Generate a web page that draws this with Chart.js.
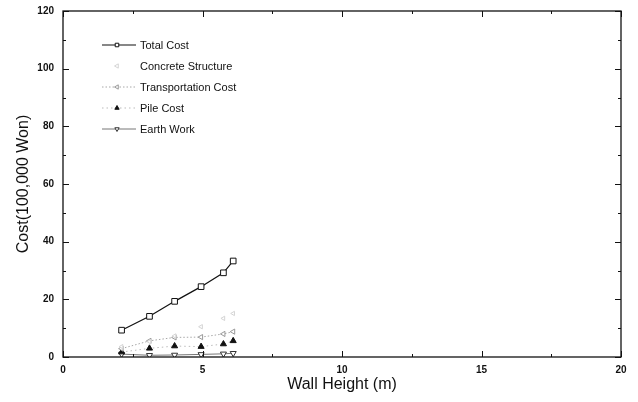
<!DOCTYPE html>
<html>
<head>
<meta charset="utf-8">
<script src="https://cdn.jsdelivr.net/npm/chart.js@4/dist/chart.umd.min.js"></script>
<style>
  html, body { margin: 0; padding: 0; background: #fff; }
  #wrap { width: 638px; height: 402px; position: relative; }
</style>
</head>
<body>
<div id="wrap"><canvas id="costChart"></canvas></div>
<script>
// wall heights (m) and cost components (100,000 Won)
const wallHeight = [2.1, 3.1, 4.0, 4.95, 5.75, 6.1];
const totalCost = [9.3, 14.1, 19.3, 24.4, 29.2, 33.3];
const concreteStructure = [3.6, 5.3, 7.3, 10.5, 13.4, 15.1];
const transportationCost = [2.9, 5.6, 6.8, 6.9, 8.0, 8.8];
const pileCost = [1.7, 3.0, 3.8, 3.6, 4.5, 5.6];
const earthWork = [1.0, 0.6, 0.7, 0.9, 1.1, 1.3];

const xTicks = [0, 5, 10, 15, 20];
const yTicks = [0, 20, 40, 60, 80, 100, 120];

const toPoints = ys => ys.map((y, i) => ({ x: wallHeight[i], y }));

const series = [
    {
        label: "Total Cost", data: toPoints(totalCost),
        borderColor: "#111", borderWidth: 1.2, borderDash: [],
        pointStyle: "rect", pointRadius: 4, pointBorderColor: "#111",
        pointBackgroundColor: "#fff", rotation: 0,
    },
    {
        label: "Concrete Structure", data: toPoints(concreteStructure),
        borderColor: "rgba(0,0,0,0)", borderWidth: 1, borderDash: [],
        pointStyle: "triangle", pointRadius: 2.5, pointBorderColor: "#d4d4d4",
        pointBackgroundColor: "#fff", rotation: -90,
    },
    {
        label: "Transportation Cost", data: toPoints(transportationCost),
        borderColor: "#a8a8a8", borderWidth: 1, borderDash: [1.5, 2],
        pointStyle: "triangle", pointRadius: 3, pointBorderColor: "#999",
        pointBackgroundColor: "#fff", rotation: -90,
    },
    {
        label: "Pile Cost", data: toPoints(pileCost),
        borderColor: "#bbb", borderWidth: 1, borderDash: [1.5, 3],
        pointStyle: "triangle", pointRadius: 3.5, pointBorderColor: "#111",
        pointBackgroundColor: "#111", rotation: 0,
    },
    {
        label: "Earth Work", data: toPoints(earthWork),
        borderColor: "#777", borderWidth: 1, borderDash: [],
        pointStyle: "triangle", pointRadius: 3.5, pointBorderColor: "#333",
        pointBackgroundColor: "#fff", rotation: 180,
    },
];

// frame, inward ticks and the legend inside the plot
const framePlugin = {
    id: "frame",
    afterDraw(chart) {
        const { ctx, chartArea: a, scales: { x, y } } = chart;
        ctx.save();
        ctx.strokeStyle = "#111";
        ctx.lineWidth = 1.3;
        ctx.strokeRect(a.left, a.top, a.right - a.left, a.bottom - a.top);

        ctx.lineWidth = 1;
        ctx.beginPath();
        for (let v = 0; v <= 20; v += 2.5) {
            const px = Math.round(x.getPixelForValue(v)) + 0.5;
            const len = v % 5 === 0 ? 6 : 3;
            ctx.moveTo(px, a.bottom); ctx.lineTo(px, a.bottom - len);
            ctx.moveTo(px, a.top); ctx.lineTo(px, a.top + len);
        }
        for (let v = 0; v <= 120; v += 10) {
            const py = Math.round(y.getPixelForValue(v)) + 0.5;
            const len = v % 20 === 0 ? 6 : 3;
            ctx.moveTo(a.left, py); ctx.lineTo(a.left + len, py);
            ctx.moveTo(a.right, py); ctx.lineTo(a.right - len, py);
        }
        ctx.stroke();

        // legend
        const rowY = [45, 66, 87, 108, 129];
        chart.data.datasets.forEach((ds, i) => {
            const yy = rowY[i];
            ctx.strokeStyle = ds.borderColor;
            ctx.lineWidth = ds.borderWidth;
            ctx.setLineDash(ds.borderDash);
            ctx.beginPath();
            ctx.moveTo(102, yy); ctx.lineTo(136, yy);
            ctx.stroke();
            ctx.setLineDash([]);
            ctx.fillStyle = ds.pointBackgroundColor;
            ctx.strokeStyle = ds.pointBorderColor;
            ctx.lineWidth = 1;
            Chart.helpers.drawPoint(ctx, {
                pointStyle: ds.pointStyle, radius: 2.5, rotation: ds.rotation, borderWidth: 1,
            }, 117, yy);
            ctx.fillStyle = "#111";
            ctx.font = "11px 'Liberation Sans', Arial, sans-serif";
            ctx.textBaseline = "middle";
            ctx.fillText(ds.label, 140, yy + 1);
        });
        ctx.restore();
    },
};

const tickFont = { size: 10, weight: "bold", family: "'Liberation Sans Narrow', 'Liberation Sans', Arial" };
const titleFont = { size: 16, family: "'Liberation Sans', Arial, sans-serif" };

new Chart(document.getElementById("costChart"), {
    type: "scatter",
    data: {
        datasets: series.map(s => ({
            ...s,
            showLine: true,
            fill: false,
            tension: 0,
            pointBorderWidth: 1,
        })),
    },
    options: {
        responsive: true,
        maintainAspectRatio: false,
        animation: false,
        layout: { padding: { top: 11, right: 17, left: 0, bottom: 0 } },
        plugins: { legend: { display: false }, tooltip: { enabled: false } },
        scales: {
            x: {
                type: "linear", min: 0, max: 20,
                afterBuildTicks: s => { s.ticks = xTicks.map(v => ({ value: v })); },
                afterFit: s => { s.height = 45; },
                grid: { display: false, drawTicks: false },
                border: { display: false },
                ticks: { padding: 7, color: "#111", font: tickFont },
                title: {
                    display: true, text: "Wall Height (m)", color: "#111",
                    font: titleFont, padding: { top: 0, bottom: 8 },
                },
            },
            y: {
                type: "linear", min: 0, max: 120,
                afterBuildTicks: s => { s.ticks = yTicks.map(v => ({ value: v })); },
                afterFit: s => {
                    s.width = 63;
                    s.paddingTop = 0;
                    s.paddingBottom = 0;
                },
                grid: { display: false, drawTicks: false },
                border: { display: false },
                ticks: { padding: 9, color: "#111", font: tickFont },
                title: {
                    display: true, text: "Cost(100,000 Won)", color: "#111",
                    font: titleFont, padding: { top: 14, bottom: 0 },
                },
            },
        },
    },
    plugins: [framePlugin],
});
</script>
</body>
</html>
